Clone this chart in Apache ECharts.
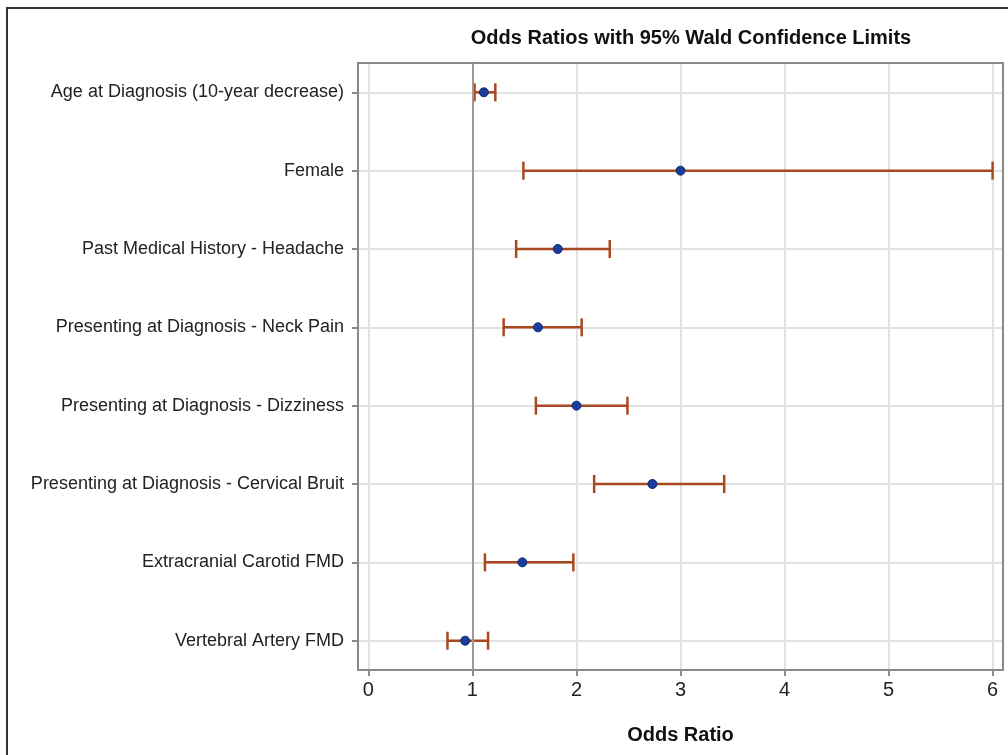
<!DOCTYPE html>
<html>
<head>
<meta charset="utf-8">
<title>Odds Ratios</title>
<script src="https://cdn.jsdelivr.net/npm/echarts@6/dist/echarts.min.js"></script>
<style>
  html, body { margin: 0; padding: 0; background: #fff; }
  #chart { width: 1008px; height: 755px; }
</style>
</head>
<body>
<div id="chart"></div>
<script>
// effects, top to bottom
const categories = [
  'Age at Diagnosis (10-year decrease)',
  'Female',
  'Past Medical History - Headache',
  'Presenting at Diagnosis - Neck Pain',
  'Presenting at Diagnosis - Dizziness',
  'Presenting at Diagnosis - Cervical Bruit',
  'Extracranial Carotid FMD',
  'Vertebral Artery FMD'
]
const oddsRatio = [1.11, 3.00, 1.82, 1.63, 2.00, 2.73, 1.48, 0.93]
const lowerCL = [1.02, 1.49, 1.42, 1.30, 1.61, 2.17, 1.12, 0.76]
const upperCL = [1.22, 6.00, 2.32, 2.05, 2.49, 3.42, 1.97, 1.15]
const xMin = 0
const xMax = 6
const xStep = 1
const refValue = 1

const font = 'Liberation Sans, Arial, Helvetica, sans-serif'

// frame and plot geometry
const frame = { left: 358, top: 63, width: 645, height: 607 }
const pad = 0.1 // axis units between frame and 0 / 6
const unit = frame.width / (xMax - xMin + 2 * pad)
const rowTop = 92.3
const rowBottom = 640.7

const chart = echarts.init(document.getElementById('chart'))

const option = {
  animation: false,
  title: {
    text: 'Odds Ratios with 95% Wald Confidence Limits',
    left: 686,
    top: 23,
    textAlign: 'center',
    textStyle: { fontFamily: font, fontSize: 20, fontWeight: 'bold', color: '#111' }
  },
  graphic: [{
    type: 'rect',
    shape: { x: 7, y: 8, width: 1010, height: 760 },
    style: { fill: 'none', stroke: '#333', lineWidth: 2 },
    silent: true
  }],
  grid: [
    // 0: frame box
    { left: frame.left, top: frame.top, width: frame.width, height: frame.height,
      show: true, borderColor: '#8a8a8a', borderWidth: 2, backgroundColor: 'transparent', z: 1 },
    // 1: x axis with ticks 0..6
    { left: frame.left + pad * unit, top: frame.top, width: (xMax - xMin) * unit, height: frame.height },
    // 2: data rows
    { left: frame.left, top: rowTop, width: frame.width, height: rowBottom - rowTop }
  ],
  xAxis: [
    { gridIndex: 0, type: 'value', show: false, min: 0, max: 1 },
    {
      gridIndex: 1, type: 'value', min: xMin, max: xMax, interval: xStep,
      name: 'Odds Ratio', nameLocation: 'middle', nameGap: 55,
      nameTextStyle: { fontFamily: font, fontSize: 20, fontWeight: 'bold', color: '#111' },
      axisLine: { show: false, onZero: false },
      axisTick: { show: true, length: 6, lineStyle: { color: '#8a8a8a', width: 2 } },
      axisLabel: { fontFamily: font, fontSize: 20, color: '#222', margin: 10 },
      splitLine: { show: true, lineStyle: { color: '#e2e2e2', width: 2 } }
    },
    { gridIndex: 2, type: 'value', show: false, min: xMin - pad, max: xMax + pad }
  ],
  yAxis: [
    { gridIndex: 0, type: 'value', show: false, min: 0, max: 1 },
    { gridIndex: 1, type: 'value', show: false, min: 0, max: 1 },
    {
      gridIndex: 2, type: 'category', data: categories, inverse: true, boundaryGap: false,
      axisLine: { show: false, onZero: false },
      axisTick: { show: true, length: 6, lineStyle: { color: '#8a8a8a', width: 2 } },
      axisLabel: { fontFamily: font, fontSize: 18, color: '#222', margin: 14 },
      splitLine: { show: true, lineStyle: { color: '#e2e2e2', width: 2 } }
    }
  ],
  series: [
    {
      // reference line at OR = 1
      type: 'scatter', xAxisIndex: 1, yAxisIndex: 1, data: [], z: 2,
      markLine: {
        silent: true, symbol: 'none', label: { show: false },
        lineStyle: { color: '#9a9a9a', width: 2, type: 'solid' },
        data: [{ xAxis: refValue }]
      }
    },
    {
      type: 'custom', xAxisIndex: 2, yAxisIndex: 2, z: 3,
      data: categories.map((c, i) => [lowerCL[i], upperCL[i], i]),
      renderItem: function (params, api) {
        const idx = api.value(2)
        const p0 = api.coord([api.value(0), idx])
        const p1 = api.coord([api.value(1), idx])
        const h = 9
        const style = { stroke: '#a9481f', lineWidth: 2.5 }
        return {
          type: 'group',
          children: [
            { type: 'line', shape: { x1: p0[0], y1: p0[1], x2: p1[0], y2: p1[1] }, style },
            { type: 'line', shape: { x1: p0[0], y1: p0[1] - h, x2: p0[0], y2: p0[1] + h }, style },
            { type: 'line', shape: { x1: p1[0], y1: p1[1] - h, x2: p1[0], y2: p1[1] + h }, style }
          ]
        }
      }
    },
    {
      type: 'scatter', xAxisIndex: 2, yAxisIndex: 2, z: 4,
      symbol: 'circle', symbolSize: 9,
      itemStyle: { color: '#1c3d9c', borderColor: '#102a70', borderWidth: 1, opacity: 1 },
      data: categories.map((c, i) => [oddsRatio[i], i])
    }
  ]
}

chart.setOption(option)
window.addEventListener('resize', () => chart.resize())
</script>
</body>
</html>
